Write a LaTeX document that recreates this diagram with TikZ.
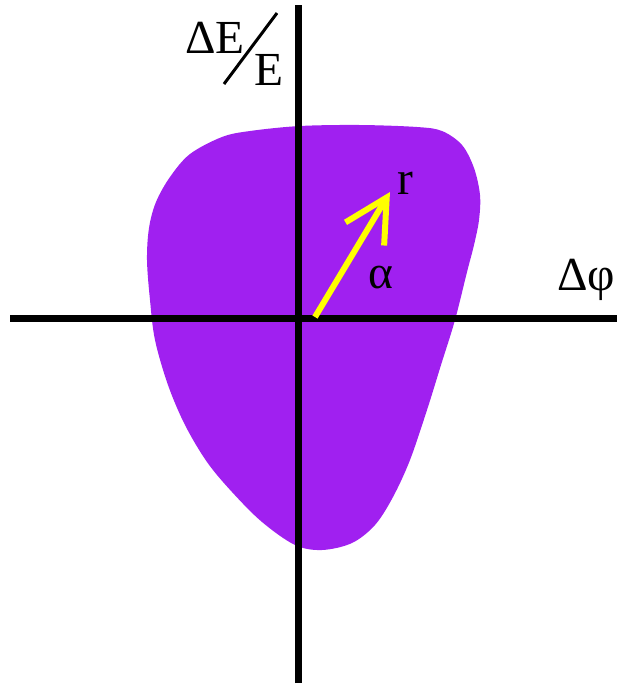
\documentclass[tikz,border=0pt]{standalone}
\usepackage{fontspec}
\setmainfont{Liberation Serif}
\usetikzlibrary{arrows.meta}
\definecolor{blobpurple}{RGB}{160,32,240}
\definecolor{vecyellow}{RGB}{255,255,0}

\begin{document}
\begin{tikzpicture}[x=0.02cm, y=-0.02cm,
  axis/.style={line width=0.14cm, black},
  lab/.style={font=\fontsize{27}{30}\selectfont, inner sep=0pt},
  vec/.style={line width=0.12cm, vecyellow, -{Straight Barb[length=0.85cm, width=0.9cm]}}]
\useasboundingbox (0,0) rectangle (621,684);
% bunch in phase space
\fill[blobpurple] plot[smooth cycle, tension=0.55] coordinates {
  (250,131) (300,126) (360,125) (417,127) (442,131) (462,145) (474,168) (480,195)
  (479,220) (474,245) (467,272) (455,320) (441,365) (427,410) (410,460) (393,497)
  (375,525) (352,543) (322,550) (295,545) (262,522) (232,492) (207,462) (185,425)
  (168,385) (155,340) (150,300) (147,260) (149,228) (156,202) (170,177) (190,154)
  (222,137)};
% axes
\coordinate (xl) at (10,318);  \coordinate (xr) at (617,318);
\coordinate (yt) at (298,5);   \coordinate (yb) at (298,683);
\draw[axis] (xl) -- (xr);
\draw[axis] (yb) -- (yt);
% labels
\node[lab] (dphi) at (586,280) {Δφ};
\node[lab] (dE) at (215,38) {ΔE};
\node[lab] (E) at (269,70) {E};
\coordinate (sl1) at (224,84); \coordinate (sl2) at (277,13);
\draw[line width=0.06cm] (sl1) -- (sl2);
% vector
\coordinate (o) at (315,317); \coordinate (tip) at (390,192);
\draw[vec] (o) -- (tip);
\node[lab] (r) at (405,183) {r};
\node[lab] (alpha) at (381,278) {α};
\end{tikzpicture}
\end{document}
